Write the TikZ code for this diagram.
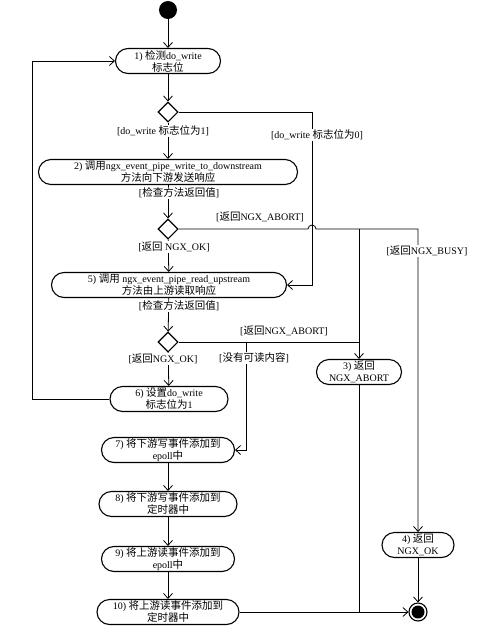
\documentclass[tikz,border=0pt]{standalone}
\usepackage{fontspec}
\setmainfont{Liberation Serif}
\newfontfamily\zh[Scale=1.05]{Noto Sans CJK SC}
\usetikzlibrary{arrows.meta,shapes.geometric}
\tikzset{
	act/.style={draw, line width=1.1pt, rounded corners=12.5pt, minimum height=25pt, inner sep=1pt, align=center, font=\fontsize{10}{12}\selectfont},
	dec/.style={draw, diamond, line width=1.1pt, minimum width=20pt, minimum height=20pt, inner sep=0pt},
	lbl/.style={fill=white, inner sep=1pt, font=\fontsize{10}{12}\selectfont},
	flow/.style={line width=0.8pt, -{Straight Barb[length=5pt,width=9pt]}},
	wire/.style={line width=0.8pt},
}
\begin{document}
\begin{tikzpicture}[x=1pt,y=1pt]
		\useasboundingbox (0,0) rectangle (490,-630);
		
		\node[circle, fill=black, minimum size=18pt, inner sep=0pt] (start) at (168,-10) {};
		\node[act, minimum width=105pt] (n1) at (168,-61) {1) {\zh 检测}do\_write\\{\zh 标志位}};
		\node[dec] (d1) at (168,-112) {};
		\node[act, minimum width=259pt] (n2) at (168,-172) {2) {\zh 调用}ngx\_event\_pipe\_write\_to\_downstream\\{\zh 方法向下游发送响应}};
		\node[dec] (d2) at (168,-229) {};
		\node[act, minimum width=235pt] (n5) at (169,-285) {5) {\zh 调用} ngx\_event\_pipe\_read\_upstream\\{\zh 方法由上游读取响应}};
		\node[dec] (d3) at (168,-342) {};
		\node[act, minimum width=118pt] (n6) at (169,-399) {6) {\zh 设置}do\_write\\{\zh 标志位为}1};
		\node[act, minimum width=85pt] (n3) at (359,-372) {3) {\zh 返回}\\NGX\_ABORT};
		\node[act, minimum width=133pt] (n7) at (168,-450) {7) {\zh 将下游写事件添加到}\\epoll{\zh 中}};
		\node[act, minimum width=138pt] (n8) at (168,-504) {8) {\zh 将下游写事件添加到}\\{\zh 定时器中}};
		\node[act, minimum width=133pt] (n9) at (168,-559) {9) {\zh 将上游读事件添加到}\\epoll{\zh 中}};
		\node[act, minimum width=142pt] (n10) at (168,-612) {10) {\zh 将上游读事件添加到}\\{\zh 定时器中}};
		\node[act, minimum width=72pt] (n4) at (418,-545) {4) {\zh 返回}\\NGX\_OK};
		\node[circle, draw, line width=1.1pt, minimum size=18pt, inner sep=0pt,
			path picture={\fill (path picture bounding box.center) circle (6.5pt);}] (stop) at (418,-612) {};
		
		\coordinate (b1) at (312,-285);
		\coordinate (j1) at (308,-229);
		\coordinate (b2) at (418,-229);
		\coordinate (j2) at (359,-229);
		\coordinate (j3) at (359,-342);
		\coordinate (j4) at (246,-342);
		\coordinate (b3) at (32,-399);
		\coordinate (b4) at (32,-61);
		\coordinate (j5) at (359,-612);
		
		\draw[flow] (start) -- (n1);
		\draw[flow] (n1) -- (d1);
		\draw[flow] (d1) -- (n2);
		\draw[flow] (d1.east) -| (b1) -- (n5.east);
		\draw[flow] (n2) -- (d2);
		\draw[flow] (d2) -- (n5);
		\draw[flow] (d2.east) -- (j1) arc[start angle=180, end angle=0, radius=4pt] -- (b2) -- (n4);
		\draw[flow] (j2) -- (n3);
		\draw[flow] (n5) -- (d3);
		\draw[flow] (d3) -- (n6);
		\draw[wire] (d3.east) -- (j3);
		\draw[flow] (j4) |- (n7.east);
		\draw[flow] (n6.west) -- (b3) -- (b4) -- (n1.west);
		\draw[flow] (n7) -- (n8);
		\draw[flow] (n8) -- (n9);
		\draw[flow] (n9) -- (n10);
		\draw[flow] (n10) -- (stop);
		\draw[wire] (n3) -- (j5);
		\draw[flow] (n4) -- (stop);
		
		\node[lbl] (l1) at (163,-131) {[do\_write {\zh 标志位为}1]};
		\node[lbl] (l2) at (317,-135) {[do\_write {\zh 标志位为}0]};
		\node[lbl] (l3) at (179,-193) {[{\zh 检查方法返回值}]};
		\node[lbl] (l4) at (260,-217) {[{\zh 返回}NGX\_ABORT]};
		\node[lbl] (l5) at (174,-247) {[{\zh 返回} NGX\_OK]};
		\node[lbl] (l6) at (427,-251) {[{\zh 返回}NGX\_BUSY]};
		\node[lbl] (l7) at (179,-306) {[{\zh 检查方法返回值}]};
		\node[lbl] (l8) at (284,-331) {[{\zh 返回}NGX\_ABORT]};
		\node[lbl] (l9) at (254,-358) {[{\zh 没有可读内容}]};
		\node[lbl] (l10) at (163,-359) {[{\zh 返回}NGX\_OK]};
	\end{tikzpicture}
\end{document}
